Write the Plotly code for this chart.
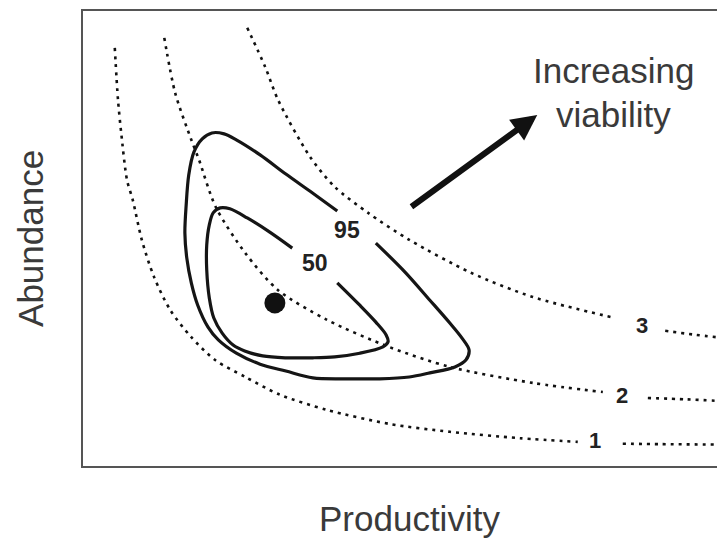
import plotly.graph_objects as go

# Isoclines of viability (dotted); None = gap for label
iso1_x = [5.1, 5.6, 6.1, 7.0, 7.9, 9.3, 11.2, 13.7, 17.0, 20.7, 25.4, 30.8, 38.1, 47.9, 57.2, 68.1, 77.1, None, 84.1, 90.0, 100.0]
iso1_y = [91.7, 80.3, 73.1, 62.8, 58.4, 49.7, 41.6, 34.4, 28.4, 23.4, 19.7, 15.8, 12.5, 9.4, 7.7, 6.3, 5.5, None, 5.1, 5.0, 4.9]
iso2_x = [12.8, 14.5, 17.0, 18.2, 20.8, 25.4, 30.5, 38.1, 47.7, 57.2, 70.1, 81.0, None, 88.0, 94.0, 100.0]
iso2_y = [93.9, 81.8, 71.6, 67.2, 56.9, 46.8, 38.7, 32.2, 26.3, 21.9, 18.4, 16.4, None, 15.1, 14.8, 14.4]
iso3_x = [25.7, 28.5, 30.5, 35.5, 39.3, 44.5, 50.9, 60.5, 70.1, 82.9, None, 90.7, 95.0, 100.0]
iso3_y = [96.1, 87.5, 80.3, 67.8, 61.3, 55.6, 49.7, 42.5, 37.2, 32.6, None, 29.8, 29.0, 28.2]
iso_labels = ["1", "2", "3"]
iso_label_x = [79.8, 84.0, 87.1]
iso_label_y = [5.3, 15.3, 30.6]

# Confidence contours (95% and 50%)
c95_x = [45.7, 50.2, 54.1, 57.2, 59.1, 60.2, 59.7, 58.0, 54.1, 50.9, 46.3, 41.2, 35.9, 31.7, 27.7, 24.0, 21.2,
         19.6, 18.0, 17.0, 16.3, 16.0, 16.2, 16.6, 17.4, 18.7, 20.2, 22.1, 24.0, 27.7, 31.7, 35.8, 39.7]
c95_y = [49.0, 42.7, 36.5, 31.5, 28.2, 25.6, 23.4, 21.9, 20.6, 19.7, 19.3, 19.3, 19.5, 21.0, 22.5, 24.9, 27.8,
         30.6, 35.4, 40.3, 45.7, 51.2, 57.3, 63.9, 68.9, 71.8, 73.1, 72.9, 71.6, 68.3, 64.1, 60.0, 56.0]
c50_x = [39.7, 43.2, 45.7, 47.3, 47.6, 46.8, 43.2, 39.3, 35.9, 31.6, 28.1, 25.3, 23.5, 21.8, 20.5, 19.8,
         19.4, 19.4, 19.8, 20.4, 21.5, 23.0, 25.7, 29.2, 32.7]
c50_y = [40.3, 35.4, 31.7, 28.9, 27.4, 26.3, 24.9, 24.1, 23.9, 23.9, 24.3, 25.4, 26.7, 29.3, 32.6, 37.0,
         43.1, 48.6, 53.0, 55.6, 56.7, 56.5, 54.5, 51.4, 47.9]
contour_labels = ["95", "50"]
contour_label_x = [41.2, 36.2]
contour_label_y = [51.4, 44.2]

# Current estimate
est_x = [30.0]
est_y = [35.9]

# Arrow of increasing viability
arrow_start = (51.0, 56.7)
arrow_end = (70.8, 77.0)

fig = go.Figure()
dot_line = dict(color="#111111", width=2.6, dash="3px,5px", shape="spline", smoothing=0.8)
for xs, ys in [(iso1_x, iso1_y), (iso2_x, iso2_y), (iso3_x, iso3_y)]:
    fig.add_trace(go.Scatter(x=xs, y=ys, mode="lines", line=dot_line, connectgaps=False,
                             hoverinfo="skip", showlegend=False))

solid = dict(color="#151515", width=3.2, shape="spline", smoothing=0.9)
for xs, ys in [(c95_x, c95_y), (c50_x, c50_y)]:
    fig.add_trace(go.Scatter(x=xs, y=ys, mode="lines", line=solid, hoverinfo="skip", showlegend=False))

fig.add_trace(go.Scatter(x=est_x, y=est_y, mode="markers",
                         marker=dict(size=21, color="#111111"), hoverinfo="skip", showlegend=False))

fig.add_trace(go.Scatter(x=iso_label_x, y=iso_label_y, mode="text", text=iso_labels,
                         textfont=dict(family="Liberation Sans", size=22, color="#222222"),
                         texttemplate="<b>%{text}</b>", hoverinfo="skip", showlegend=False))
fig.add_trace(go.Scatter(x=contour_label_x, y=contour_label_y, mode="text", text=contour_labels,
                         textfont=dict(family="Liberation Sans", size=23, color="#222222"),
                         texttemplate="<b>%{text}</b>", hoverinfo="skip", showlegend=False))

txt_font = dict(family="Liberation Sans", size=35, color="#3a3a3a")
annotations = [
    dict(x=arrow_end[0], y=arrow_end[1], ax=arrow_start[0], ay=arrow_start[1],
         xref="x", yref="y", axref="x", ayref="y", text="", showarrow=True,
         arrowhead=2, arrowwidth=6, arrowsize=0.85, arrowcolor="#111111", standoff=0),
    dict(x=82.7, y=86.7, xref="x", yref="y", text="Increasing", showarrow=False,
         xanchor="center", yanchor="middle", font=txt_font),
    dict(x=82.7, y=77.2, xref="x", yref="y", text="viability", showarrow=False,
         xanchor="center", yanchor="middle", font=txt_font),
    dict(x=51.0, y=-0.113, xref="x", yref="paper", text="Productivity", showarrow=False,
         xanchor="center", yanchor="middle", font=txt_font),
    dict(x=-0.081, y=0.501, xref="paper", yref="paper", text="Abundance", showarrow=False, textangle=-90,
         xanchor="center", yanchor="middle", font=txt_font),
]

fig.update_layout(
    width=717, height=532,
    margin=dict(l=74, r=0, t=2, b=73),
    paper_bgcolor="white", plot_bgcolor="white",
    annotations=annotations,
    shapes=[dict(type="rect", xref="paper", yref="paper", x0=0, x1=1.05, y0=0, y1=1,
                 line=dict(color="#555555", width=2), layer="above")],
    xaxis=dict(range=[0, 100], showgrid=False, zeroline=False, showticklabels=False, ticks="", fixedrange=True),
    yaxis=dict(range=[0, 100], showgrid=False, zeroline=False, showticklabels=False, ticks="", fixedrange=True),
)

fig.write_html("out.html")
